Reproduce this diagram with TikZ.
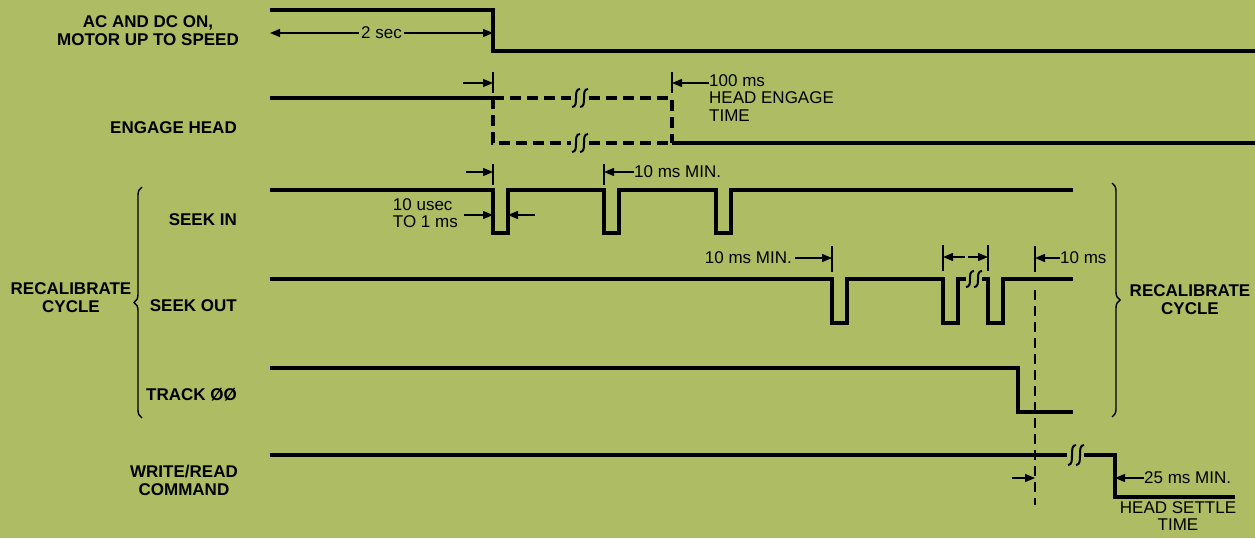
\documentclass[tikz,border=0pt]{standalone}
\usepackage{fontspec}
\setmainfont{Liberation Sans}
\usetikzlibrary{arrows.meta,decorations.pathreplacing}
\definecolor{paper}{RGB}{174,189,100}
\newcommand{\squig}[3]{%
\foreach \d in {-4,4}{
\draw[brk] (#1+\d-4,#2+#3) .. controls (#1+\d+4,#2+#3) and (#1+\d-4,#2-#3) .. (#1+\d+4,#2-#3);}}

\begin{document}
\begin{tikzpicture}[
x=1pt,y=-1pt,
wave/.style={line width=3.8pt},
dwave/.style={line width=3.8pt,dash pattern=on 11pt off 6pt},
tick/.style={line width=1.3pt},
dim/.style={line width=1.3pt,-{Triangle[length=10pt,width=8pt]}},
ddim/.style={line width=1.3pt,{Triangle[length=10pt,width=8pt]}-{Triangle[length=10pt,width=8pt]}},
brk/.style={line width=2pt},
lab/.style={font=\fontsize{17}{18}\selectfont\bfseries,align=center,inner sep=0pt},
note/.style={font=\fontsize{17}{17.5}\selectfont,align=left,inner sep=0pt}
]
\fill[paper] (0,0) rectangle (1255,538);
\useasboundingbox (0,0) rectangle (1255,538);

\node[lab,anchor=east] (acdc) at (239,31) {AC AND DC ON,\\MOTOR UP TO SPEED};
\node[lab,anchor=east] (engage) at (237,128) {ENGAGE HEAD};
\node[lab,anchor=east] (seekin) at (237,220) {SEEK IN};
\node[lab,anchor=east] (seekout) at (237,306) {SEEK OUT};
\node[lab,anchor=east] (track) at (237,395) {TRACK ØØ};
\node[lab,anchor=east] (wrcmd) at (238,480) {WRITE/READ\\COMMAND};
\node[lab] (recalL) at (71,298) {RECALIBRATE\\CYCLE};
\node[lab] (recalR) at (1190,300) {RECALIBRATE\\CYCLE};

\draw[wave] (270,10) -- (493,10) -- (493,51) -- (1255,51);
\draw[ddim] (270,33) -- (493,33) node[midway,fill=paper,note,inner xsep=2pt] (twosec) {2 sec};

\draw[wave] (270,98) -- (493,98);
\draw[dwave] (493,98) -- (571,98) (589,98) -- (672,98) -- (672,143);
\draw[dwave] (493,98) -- (493,143) -- (571,143) (589,143) -- (672,143);
\draw[wave] (672,143) -- (1255,143);
\squig{580}{98}{9}
\squig{580}{143}{9}
\draw[tick] (493,72) -- (493,93) (672,72) -- (672,93);
\draw[dim] (463,83) -- (493,83);
\node[note,anchor=north west] (engtime) at (709,74) {100 ms\\HEAD ENGAGE\\TIME};
\draw[dim] (engtime.west |- 672,83) -- (672,83);

\draw[wave] (270,190) foreach \p in {493,604,716}{ -- (\p,190) -- (\p,233) -- (\p+15,233) -- (\p+15,190)} -- (1073,190);
\draw[tick] (493,164) -- (493,185) (604,164) -- (604,185);
\draw[dim] (466,172) -- (493,172);
\node[note,anchor=west] (minA) at (634,172) {10 ms MIN.};
\draw[dim] (minA.west) -- (604,172);
\node[note,anchor=east] (width) at (458,213) {10 usec\\TO 1 ms};
\draw[dim] (width.east |- 0,215) ++(6,0) -- (493,215);
\draw[dim] (535,215) -- (508,215);

\draw[wave] (270,279) foreach \p in {832,943}{ -- (\p,279) -- (\p,323) -- (\p+15,323) -- (\p+15,279)} -- (966,279);
\draw[wave] (982,279) -- (988,279) -- (988,323) -- (1003,323) -- (1003,279) -- (1073,279);
\squig{974}{279}{8}
\node[note,anchor=east] (minB) at (792,258) {10 ms MIN.};
\draw[dim] (minB.east) ++(3,0) -- (832,258);
\draw[tick] (832,246) -- (832,272) (943,245) -- (943,271) (988,245) -- (988,271) (1035,246) -- (1035,272);
\draw[dim] (965,257) -- (943,257);
\draw[dim] (968,257) -- (988,257);
\node[note,anchor=west] (tenms) at (1060,258) {10 ms};
\draw[dim] (tenms.west) -- (1035,258);

\draw[wave] (270,368) -- (1018,368) -- (1018,412) -- (1073,412);
\draw[line width=1.3pt,dash pattern=on 10pt off 6pt] (1035,290) -- (1035,505);

\draw[wave] (270,455) -- (1067,455) (1084,455) -- (1115,455) -- (1115,497) -- (1235,497);
\squig{1076}{455}{10}
\draw[dim] (1012,478) -- (1035,478);
\node[note,anchor=west] (settle) at (1144,478) {25 ms MIN.};
\draw[dim] (settle.west) -- (1115,478);
\node[note,align=center,anchor=north] (settletime) at (1178,501) {HEAD SETTLE\\TIME};

\draw[line width=1.4pt,decorate,decoration={brace,amplitude=8pt}] (142,418) -- (142,187);
\draw[line width=1.4pt,decorate,decoration={brace,amplitude=8pt}] (1112,183) -- (1112,417);
\end{tikzpicture}
\end{document}
